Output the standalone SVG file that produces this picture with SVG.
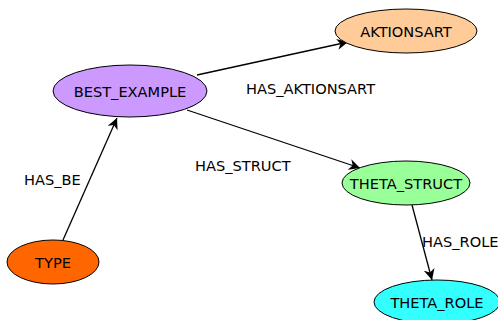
<svg xmlns="http://www.w3.org/2000/svg" width="498" height="320" viewBox="0 0 498 320">
  <style>
    .node ellipse { stroke: #000; stroke-width: 1; }
    text { font-family: "DejaVu Sans", sans-serif; font-size: 14.6px; fill: #000; }
    .node text { text-anchor: middle; dominant-baseline: central; }
    .edge line { stroke: #000; stroke-width: 1.3; marker-end: url(#arrow); }
  </style>
  <defs>
    <marker id="arrow" viewBox="0 0 10 10" refX="10" refY="5" markerWidth="11" markerHeight="11" markerUnits="userSpaceOnUse" orient="auto">
      <path d="M0,0 L10,5 L0,10 L3,5 Z" fill="#000"/>
    </marker>
  </defs>
  <rect width="498" height="320" fill="#fff"/>

  <g id="connectors" class="edge">
    <line x1="197" y1="75" x2="348" y2="42"/>
    <line x1="187" y1="110" x2="360" y2="168"/>
    <line x1="63" y1="240" x2="117" y2="118"/>
    <line x1="412" y1="205" x2="432" y2="280"/>
    <text x="246" y="94">HAS_AKTIONSART</text>
    <text x="195" y="171">HAS_STRUCT</text>
    <text x="24" y="185">HAS_BE</text>
    <text x="422" y="247">HAS_ROLE</text>
  </g>

  <g id="best_example" class="node">
    <ellipse cx="130" cy="91" rx="77" ry="26" fill="#cc99ff"/>
    <text x="130" y="91">BEST_EXAMPLE</text>
  </g>
  <g id="aktionsart" class="node">
    <ellipse cx="406" cy="31" rx="71" ry="22" fill="#ffcc99"/>
    <text x="406" y="31">AKTIONSART</text>
  </g>
  <g id="theta_struct" class="node">
    <ellipse cx="406" cy="183" rx="64" ry="22" fill="#99ff99"/>
    <text x="406" y="183">THETA_STRUCT</text>
  </g>
  <g id="type" class="node">
    <ellipse cx="53" cy="262" rx="46" ry="22" fill="#ff6600"/>
    <text x="53" y="262">TYPE</text>
  </g>
  <g id="theta_role" class="node">
    <ellipse cx="437" cy="302" rx="63" ry="22" fill="#33ffff"/>
    <text x="437" y="302">THETA_ROLE</text>
  </g>
</svg>
